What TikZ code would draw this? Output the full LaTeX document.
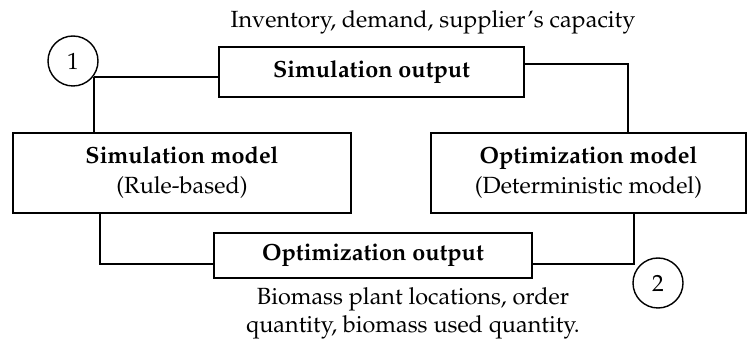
\documentclass[tikz,border=0pt]{standalone}
\usepackage[T1]{fontenc}
\usepackage{mathpazo}
\begin{document}
\begin{tikzpicture}[x=0.5pt,y=-0.5pt,
  box/.style={draw,line width=0.7pt,inner sep=0pt,align=center,font=\fontsize{11.7}{15}\selectfont},
  num/.style={draw,circle,line width=0.7pt,minimum size=25pt,inner sep=0pt,font=\fontsize{11.7}{14}\selectfont},
  conn/.style={line width=1.2pt},
  lab/.style={align=center,font=\fontsize{11.7}{14}\selectfont}]
\useasboundingbox (0,0) rectangle (756,347);
\node[box,minimum width=152.5pt,minimum height=25pt] (simout) at (371.5,72) {\textbf{Simulation output}};
\node[box,minimum width=169pt,minimum height=40pt] (simmod) at (182,173) {\textbf{Simulation model}\\(Rule-based)};
\node[box,minimum width=157.5pt,minimum height=40pt] (optmod) at (588.5,173) {\textbf{Optimization model}\\(Deterministic model)};
\node[box,minimum width=159pt,minimum height=22.5pt] (optout) at (373,255.5) {\textbf{Optimization output}};
\node[num] (c1) at (73,61) {1};
\node[num] (c2) at (658,283) {2};
\node[lab] (toplab) at (433,22) {Inventory, demand, supplier's capacity};
\node[lab] (botlab) at (413,313) {Biomass plant locations, order\\quantity, biomass used quantity.};
\coordinate (j1) at (94,77);
\coordinate (k1) at (628,64);
\coordinate (k2) at (100,264);
\coordinate (k3) at (634,264);
\draw[conn] (j1) -- (j1 -| simout.west);
\draw[conn] (j1) -- (j1 |- simmod.north);
\draw[conn] (k1 -| simout.east) -- (k1) -- (k1 |- optmod.north);
\draw[conn] (k2 |- simmod.south) -- (k2) -- (k2 -| optout.west);
\draw[conn] (k3 -| optout.east) -- (k3) -- (k3 |- optmod.south);
\end{tikzpicture}
\end{document}
